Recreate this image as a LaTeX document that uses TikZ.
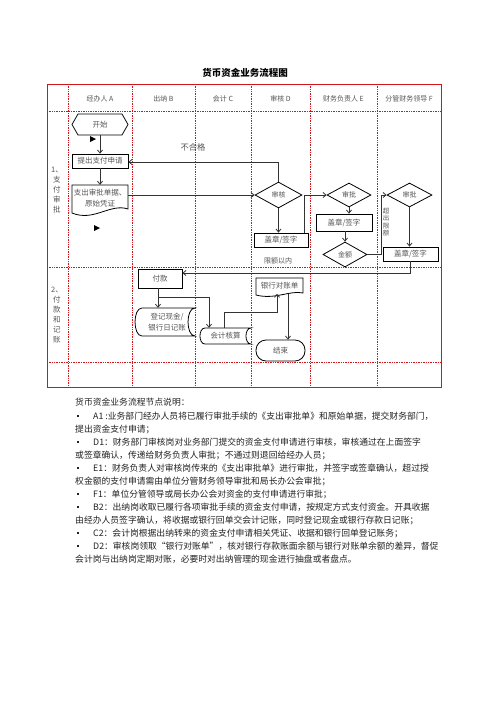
\documentclass[tikz,border=0pt]{standalone}
\usepackage{fontspec}
\setmainfont{Noto Sans CJK SC}
\usetikzlibrary{arrows.meta,calc,shapes.geometric}
\definecolor{tred}{HTML}{D0161B}
\definecolor{tgray}{HTML}{555555}
\definecolor{ttext}{HTML}{222222}
\begin{document}
\begin{tikzpicture}[x=1pt,y=-1pt,
  hdr/.style={font=\fontsize{7}{8}\selectfont, text=tgray, inner sep=0},
  vlab/.style={font=\fontsize{7.5}{10}\selectfont, text=tgray, align=center, inner sep=0},
  box/.style={draw=black, line width=0.8pt, inner sep=0, font=\fontsize{7.5}{9}\selectfont, text=tgray, align=center},
  txt/.style={inner sep=0, font=\fontsize{7.5}{10.5}\selectfont, text=tgray, align=center},
  dia/.style={diamond, draw=black, line width=0.8pt, inner sep=0, font=\fontsize{7}{8}\selectfont, text=tgray},
  outl/.style={draw=black, line width=0.8pt},
  conn/.style={draw=black!80, line width=0.8pt, -{Straight Barb[length=3pt,width=5pt]}},
  grid/.style={draw=tred, line width=0.7pt, densely dotted},
  para/.style={anchor=west, inner sep=0, font=\fontsize{8.8}{10}\selectfont, text=ttext},
  bul/.style={fill=ttext, minimum size=2.3pt, inner sep=0}
]
\useasboundingbox (0,0) rectangle (496,702);
\fill[white] (0,0) rectangle (496,702);

% title
\node[font=\fontsize{9.5}{10}\selectfont\bfseries, text=black] (title) at (245,73) {货币资金业务流程图};

% table grid
\foreach \x in {68,132,195,251,310,377} \draw[grid] (\x,84) -- (\x,387);
\foreach \y in {111,267,362} \draw[grid] (47,\y) -- (441,\y);
\draw[tred, line width=0.9pt] (47,84) rectangle (441,387);

% headers
\node[hdr] (hA) at (100,99) {经办人 A};
\node[hdr] (hB) at (163.5,99) {出纳 B};
\node[hdr] (hC) at (223,99) {会计 C};
\node[hdr] (hD) at (280.5,99) {审核 D};
\node[hdr] (hE) at (343.5,99) {财务负责人 E};
\node[hdr] (hF) at (409,99) {分管财务领导 F};

% row labels
\node[vlab] (r1) at (57,190) {1、\\支\\付\\审\\批};
\node[vlab] (r2) at (57,315) {2、\\付\\款\\和\\记\\账};

% section 1 nodes
\node[txt, minimum width=56, minimum height=21] (start) at (100,124.5) {开始};
\draw[outl] (72,124.5) -- (78,114) -- (122,114) -- (128,124.5) -- (122,135) -- (78,135) -- cycle;
\fill[black] (90,136) -- (96,139) -- (90,142) -- cycle;

\node[box, minimum width=56, minimum height=14] (apply) at (100,161) {提出支付申请};

\node[txt, minimum width=56, minimum height=26] (doc1) at (100,198) {支出审批单据、\\原始凭证};
\draw[outl] (72,185) -- (128,185) -- (128,209) .. controls (110,203) and (94,222) .. (72,213) -- cycle;
\fill[black] (94,225) -- (100,228) -- (94,231) -- cycle;

\node[font=\fontsize{8.3}{9}\selectfont, text=tgray, inner sep=0] (fail) at (193,147) {不合格};

\node[dia, minimum width=47, minimum height=26] (dD) at (278.5,195) {审核};
\node[box, minimum width=54, minimum height=14] (sD) at (281,240) {盖章/签字};
\node[txt, font=\fontsize{7}{8}\selectfont] (lim) at (278,261) {限额以内};

\node[dia, minimum width=44, minimum height=24] (dE) at (349,195) {审批};
\node[box, minimum width=56, minimum height=17] (sE) at (344,222.5) {盖章/签字};
\node[dia, minimum width=44, minimum height=25] (amt) at (345,254.5) {金额};

\node[dia, minimum width=45, minimum height=24] (dF) at (409.5,195) {审批};
\node[box, minimum width=55, minimum height=14] (sF) at (410.5,254) {盖章/签字};
\node[txt, font=\fontsize{6.5}{7.2}\selectfont] (over) at (386,222) {超\\出\\限\\额};

% section 2 nodes
\node[box, minimum width=44, minimum height=19] (pay) at (160,278.5) {付款};

\node[txt, minimum width=52, minimum height=28] (ledger) at (167,322) {登记现金/\\银行日记账};
\draw[outl] (142,308) -- (195,308) .. controls (185.7,308) and (185.7,336) .. (195,336) -- (142,336) .. controls (132.7,336) and (132.7,308) .. (142,308) -- cycle;

\node[txt, minimum width=44, minimum height=16] (acct) at (225.5,336) {会计核算};
\draw[outl] (205,328) -- (251,328) .. controls (244.3,328) and (244.3,344) .. (251,344) -- (205,344) .. controls (198.3,344) and (198.3,328) .. (205,328) -- cycle;

\node[txt, minimum width=47, minimum height=15] (stmt) at (279.5,286) {银行对账单};
\draw[outl] (256,278) -- (303,278) -- (303,293) .. controls (290,290) and (275,300) .. (256,295) -- cycle;

\node[box, rounded corners=10pt, minimum width=49, minimum height=21] (end) at (280.5,350.5) {结束};

% connectors section 1
\draw[conn] (start.south) -- (apply.north);
\draw[conn] (apply.south) -- (doc1.north);
\draw[conn] (doc1.east |- dD.west) -- (dD.west);
\draw[conn] (dD.north) |- ([yshift=-1pt]apply.east);
\draw[conn] (dD.south) -- (dD.south |- sD.north);
\draw[conn] ([xshift=-4pt]sD.north east) |- (dE.west);
\draw[conn] (dE.south) -- (dE.south |- sE.north);
\draw[conn] (sE.south -| amt.north) -- (amt.north);
\coordinate (k1) at (381,254.5);
\draw[conn] (amt.east) -- (k1) |- (dF.west);
\draw[conn] (dF.south) -- (dF.south |- sF.north);
\draw[conn] (sF.south) |- ([yshift=5.5pt]pay.east);

% connectors section 2
\draw[conn] ([xshift=-2pt]pay.south) -- ([xshift=-2pt]pay.south |- ledger.north);
\coordinate (b1) at (158,297);
\draw[conn] (b1) -| ([xshift=-16.5pt]acct.north);
\coordinate (c1) at (277,312);
\draw[conn] ([xshift=-1.5pt]acct.north) |- (c1) -- (c1 |- stmt.south);
\draw[conn] ([xshift=8.5pt]stmt.south) -- ([xshift=8.5pt]stmt.south |- end.north);

% explanation text
\node[para] (t0) at (75,402) {货币资金业务流程节点说明：};
\node[bul] (u1) at (78,416) {};
\node[para] (t1) at (93,416) {A1 :业务部门经办人员将已履行审批手续的《支出审批单》和原始单据，提交财务部门，};
\node[para] (t2) at (75,429) {提出资金支付申请；};
\node[bul] (u2) at (78,442) {};
\node[para] (t3) at (93,442) {D1：财务部门审核岗对业务部门提交的资金支付申请进行审核，审核通过在上面签字};
\node[para] (t4) at (75,455) {或签章确认，传递给财务负责人审批；不通过则退回给经办人员；};
\node[bul] (u3) at (78,468) {};
\node[para] (t5) at (93,468) {E1：财务负责人对审核岗传来的《支出审批单》进行审批，并签字或签章确认，超过授};
\node[para] (t6) at (75,481) {权金额的支付申请需由单位分管财务领导审批和局长办公会审批；};
\node[bul] (u4) at (78,494) {};
\node[para] (t7) at (93,494) {F1：单位分管领导或局长办公会对资金的支付申请进行审批；};
\node[bul] (u5) at (78,507) {};
\node[para] (t8) at (93,507) {B2：出纳岗收取已履行各项审批手续的资金支付申请，按规定方式支付资金。开具收据};
\node[para] (t9) at (75,520) {由经办人员签字确认，将收据或银行回单交会计记账，同时登记现金或银行存款日记账；};
\node[bul] (u6) at (78,533) {};
\node[para] (t10) at (93,533) {C2：会计岗根据出纳转来的资金支付申请相关凭证、收据和银行回单登记账务；};
\node[bul] (u7) at (78,546) {};
\node[para] (t11) at (93,546) {D2：审核岗领取“银行对账单”，核对银行存款账面余额与银行对账单余额的差异，督促};
\node[para] (t12) at (75,559) {会计岗与出纳岗定期对账，必要时对出纳管理的现金进行抽盘或者盘点。};
\end{tikzpicture}
\end{document}
